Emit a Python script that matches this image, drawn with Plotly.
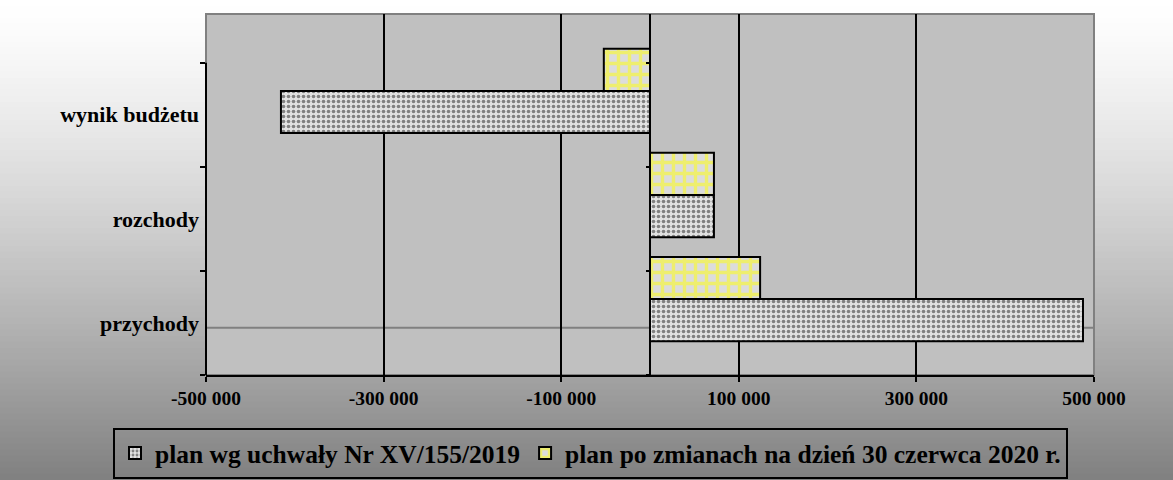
import plotly.graph_objects as go

# ---- data ----
categories = ["przychody", "rozchody", "wynik budżetu"]
plan_uchwala = [487600, 72000, -415600]
plan_zmiany = [124000, 72000, -52000]
series_names = ["plan wg uchwały Nr XV/155/2019", "plan po zmianach na dzień 30 czerwca 2020 r."]
x_tickvals = [-500000, -300000, -100000, 100000, 300000, 500000]
x_ticktext = ["-500 000", "-300 000", "-100 000", "100 000", "300 000", "500 000"]

W, H = 1173, 480
ML, MR, MT, MB = 206, 79, 14, 105
PW, PH = W - ML - MR, H - MT - MB
FONT = "Liberation Serif"

# axis geometry: categories occupy the lower part of the plot frame
y_top = 2.968
bar_w = 0.405
shift = 0.229

fig = go.Figure()
fig.add_trace(go.Bar(
    y=categories, x=plan_uchwala, orientation="h", name=series_names[0],
    width=bar_w, offset=shift - bar_w,
    marker=dict(color="#d8d8d8", line=dict(color="black", width=2),
                pattern=dict(shape=".", fgcolor="#1e1e1e", bgcolor="#e2e2e2",
                             size=5, solidity=0.42)),
))
fig.add_trace(go.Bar(
    y=categories, x=plan_zmiany, orientation="h", name=series_names[1],
    width=bar_w, offset=shift,
    marker=dict(color="#dcdcdc", line=dict(color="black", width=2),
                pattern=dict(shape="+", fgcolor="#ffff00", bgcolor="#dcdcdc",
                             size=11, solidity=0.52)),
))
# invisible helper trace for ticks on the zero-crossing category axis
fig.add_trace(go.Scatter(y=categories, x=[0, 0, 0], yaxis="y2", mode="markers",
                         marker=dict(opacity=0), showlegend=False, hoverinfo="skip"))

shapes = []
# background gradient (white -> gray)
N = 80
for i in range(N):
    py0 = H * i / N
    py1 = H * (i + 1) / N
    t = (py0 + py1) / 2 / H
    v = int(round(255 - 127 * t ** 1.3))
    shapes.append(dict(type="rect", xref="paper", yref="paper", layer="below",
                       x0=-ML / PW - 0.02, x1=(W - ML) / PW + 0.02,
                       y0=(H - MB - py1) / PH - 0.001, y1=(H - MB - py0) / PH + 0.001,
                       line=dict(width=0), fillcolor=f"rgb({v},{v},{v})"))
# plot frame
shapes.append(dict(type="rect", xref="paper", yref="paper", layer="below",
                   x0=0, x1=1, y0=0, y1=1, fillcolor="#c0c0c0",
                   line=dict(color="#808080", width=2)))
# gray horizontal line
shapes.append(dict(type="line", xref="paper", yref="y", layer="below",
                   x0=0, x1=1, y0=-0.045, y1=-0.045,
                   line=dict(color="#808080", width=2)))
# left axis line (category span only)
shapes.append(dict(type="line", xref="paper", yref="y", layer="above",
                   x0=0, x1=0, y0=-0.5, y1=2.5,
                   line=dict(color="black", width=2)))
fig.update_layout(shapes=shapes)

fig.update_layout(
    width=W, height=H,
    margin=dict(l=ML, r=MR, t=MT, b=MB, pad=0, autoexpand=False),
    paper_bgcolor="#c0c0c0", plot_bgcolor="rgba(0,0,0,0)",
    barmode="group",
    font=dict(family=FONT, color="black"),
    xaxis=dict(range=[-500000, 500000], tickvals=x_tickvals, ticktext=x_ticktext,
               showgrid=True, gridcolor="black", gridwidth=2,
               zeroline=True, zerolinecolor="black", zerolinewidth=2,
               showline=True, linecolor="black", linewidth=2,
               ticks="outside", ticklen=5, tickwidth=2, tickcolor="black",
               tickfont=dict(family=FONT, size=19.5, color="black", weight="bold")),
    yaxis=dict(type="category", categoryarray=categories, categoryorder="array",
               range=[-0.5, y_top], showgrid=False, zeroline=False, showline=False,
               ticks="outside", ticklen=5, tickwidth=2, tickcolor="black",
               tickson="boundaries", ticklabelstandoff=6,
               tickfont=dict(family=FONT, size=22, color="black", weight="bold")),
    yaxis2=dict(type="category", categoryarray=categories, categoryorder="array",
                overlaying="y", anchor="free", position=0.5, side="left",
                range=[-0.5, y_top], showgrid=False, zeroline=False, showline=False,
                ticks="outside", ticklen=4, tickwidth=2, tickcolor="black",
                tickson="boundaries", showticklabels=False),
    legend=dict(orientation="h", x=(113 - ML) / PW, xanchor="left",
                y=(H - MB - 428) / PH, yanchor="top",
                bgcolor="rgba(0,0,0,0)", bordercolor="black", borderwidth=2,
                font=dict(family=FONT, size=25.5, color="black", weight="bold"),
                itemwidth=30, traceorder="normal"),
    showlegend=True,
)

fig.write_html("out.html", config={"displayModeBar": False},
               post_script="document.body.style.margin='0';")
